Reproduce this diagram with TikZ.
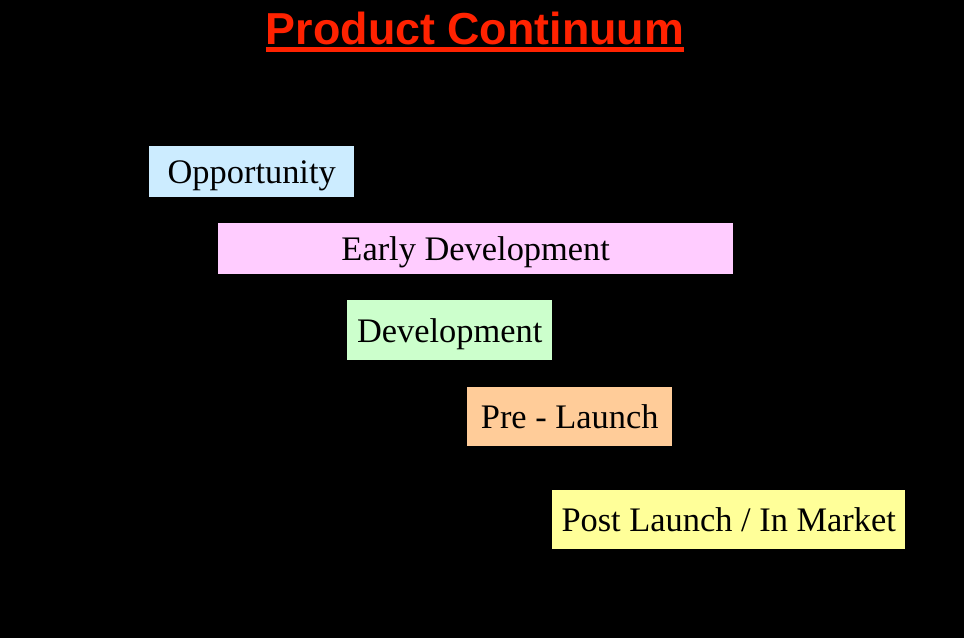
\documentclass[tikz,border=0pt]{standalone}
\usepackage{fontspec}
\setmainfont{Liberation Serif}
\newfontfamily\titlefont{Liberation Sans}
\usetikzlibrary{positioning}
\definecolor{titlered}{HTML}{FF2200}
\definecolor{oppblue}{HTML}{CCECFF}
\definecolor{earlypink}{HTML}{FFCCFF}
\definecolor{devgreen}{HTML}{CCFFCC}
\definecolor{preorange}{HTML}{FFCC99}
\definecolor{postyellow}{HTML}{FFFF99}

\begin{document}
\begin{tikzpicture}[
    x=1pt, y=-1pt,
    phase/.style={rectangle, inner sep=0pt, text depth=0pt, anchor=north west, font=\fontsize{34.4}{40}\selectfont, text=black},
    heading/.style={inner sep=0pt, anchor=base, text=titlered, font=\titlefont\bfseries\fontsize{44.8}{50}\selectfont}
]
    \fill[black] (0,0) rectangle (964,638);
    \useasboundingbox (0,0) rectangle (964,638);

    \node[heading] (title) at (475,44) {Product Continuum};
    \draw[titlered, line width=5pt] ([yshift=-5.5pt]title.base west) -- ([yshift=-5.5pt]title.base east);

    \node[phase, fill=oppblue, minimum width=205pt, minimum height=51pt] (opp) at (149,146) {Opportunity};
    \node[phase, fill=earlypink, minimum width=515pt, minimum height=51pt] (early) at (218,223) {Early Development};
    \node[phase, fill=devgreen, minimum width=205pt, minimum height=60pt] (dev) at (347,300) {Development};
    \node[phase, fill=preorange, minimum width=205pt, minimum height=59pt] (pre) at (467,387) {Pre - Launch};
    \node[phase, fill=postyellow, minimum width=353pt, minimum height=59pt] (post) at (552,490) {Post Launch / In Market};
\end{tikzpicture}
\end{document}
